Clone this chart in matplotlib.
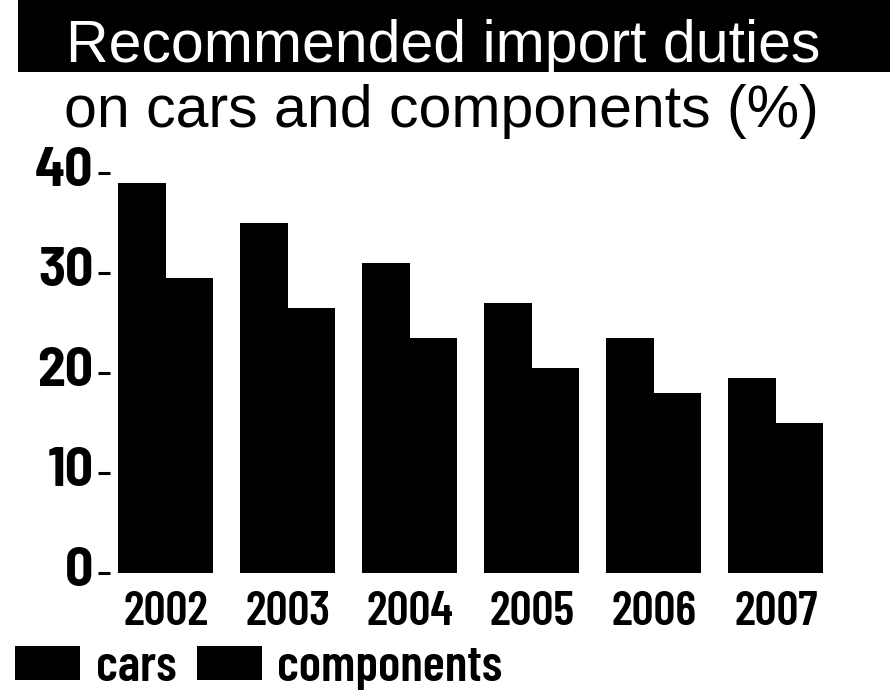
import matplotlib
matplotlib.use("Agg")
import matplotlib.pyplot as plt
import numpy as np
from matplotlib.patches import Rectangle
from matplotlib.transforms import ScaledTranslation
from matplotlib import font_manager as fm

# ---- data ----
years = ["2002", "2003", "2004", "2005", "2006", "2007"]
cars = [39, 35, 31, 27, 23.5, 19.5]
components = [29.5, 26.5, 23.5, 20.5, 18, 15]
yticks = [0, 10, 20, 30, 40]
title_line1 = "Recommended import duties"
title_line2 = "on cars and components (%)"
series_names = ["cars", "components"]

_avail = {f.name for f in fm.fontManager.ttflist}

def pick(cands):
    return [c for c in cands if c in _avail][:1] + ["DejaVu Sans"]

COND = pick(["Barlow Condensed", "Archivo Narrow", "Asap Condensed"])
SEMI = pick(["Barlow Semi Condensed", "Roboto Condensed", "Archivo Narrow"])
REG = pick(["Liberation Sans", "Arimo"])

W, H = 890, 698
fig = plt.figure(figsize=(W / 100, H / 100), dpi=100)
fig.patch.set_facecolor("white")

def fx(px):
    return px / W

def fy(py):
    return 1 - py / H

# title band
fig.patches.append(Rectangle((fx(18), fy(72)), fx(890 - 18), 72 / H,
                             transform=fig.transFigure, facecolor="black",
                             edgecolor="none", zorder=0))
fig.text(fx(66), fy(62), title_line1, color="white", fontsize=42.5,
         family=REG, ha="left", va="baseline")
fig.text(fx(64), fy(127), title_line2, color="black", fontsize=42.5,
         family=REG, ha="left", va="baseline")

# axes
left, right = 110, 843
bottom, top = 573, 153
ax = fig.add_axes([fx(left), fy(bottom), fx(right - left), (bottom - top) / H])
ax.set_facecolor("none")

x = np.arange(len(years))
bw = 0.39
b1 = ax.bar(x - bw / 2, cars, width=bw, color="black", edgecolor="none",
            label=series_names[0])
b2 = ax.bar(x + bw / 2, components, width=bw, color="black", edgecolor="none",
            label=series_names[1])

ax.set_xlim(-0.455, 5.55)
ax.set_ylim(0, 42)
ax.set_yticks(yticks)
ax.set_yticklabels([str(v) for v in yticks], family=SEMI,
                   fontweight="bold", fontsize=40)
ax.set_xticks(x)
ax.set_xticklabels(years, family=COND, fontweight="semibold", fontsize=35)
ax.tick_params(axis="y", length=9, width=2.2, pad=3, color="black")
ax.tick_params(axis="x", length=0, pad=13)
for s in ax.spines.values():
    s.set_visible(False)

off = ScaledTranslation(0, 6 / 100, fig.dpi_scale_trans)
for lab in ax.get_yticklabels():
    lab.set_transform(lab.get_transform() + off)

# legend
leg = fig.legend(handles=[b1, b2], labels=series_names, loc="lower left",
                 bbox_to_anchor=(fx(15), fy(690)), ncol=2, frameon=False,
                 prop={"family": COND, "weight": "semibold", "size": 37},
                 handlelength=1.27, handleheight=0.62, handletextpad=0.3,
                 columnspacing=0.4, borderpad=0, borderaxespad=0)

fig.savefig("out.png", dpi=100, facecolor="white")
